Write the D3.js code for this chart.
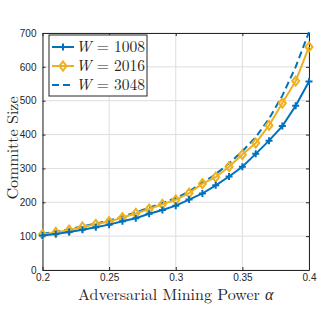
<!DOCTYPE html>
<html>
<head>
<meta charset="utf-8">
<script src="https://cdn.jsdelivr.net/npm/d3@7"></script>
<style>
  body { margin: 0; background: #fff; }
  svg { display: block; }
</style>
</head>
<body>
<div id="chart"></div>
<script>
// data
var alpha = [0.20, 0.21, 0.22, 0.23, 0.24, 0.25, 0.26, 0.27, 0.28, 0.29, 0.30,
             0.31, 0.32, 0.33, 0.34, 0.35, 0.36, 0.37, 0.38, 0.39, 0.40];
var w1008 = [102, 106, 112, 119, 126, 134, 144, 153, 166, 177, 190,
             208, 226, 250, 276, 305, 343, 382, 425, 485, 557];
var w2016 = [105, 111, 118, 127, 135, 143, 155, 167, 180, 194, 207,
             227, 255, 274, 305, 341, 375, 427, 493, 558, 659];
var w3048 = [107, 113, 120, 129, 137, 146, 158, 170, 184, 198, 212,
             232, 258, 283, 315, 351, 392, 447, 515, 600, 703];
var xTicks = [0.2, 0.25, 0.3, 0.35, 0.4];
var yTicks = [0, 100, 200, 300, 400, 500, 600, 700];
var legendNames = ["1008", "2016", "3048"];

var blue = "#0072BD", yellow = "#EDB120";

var margin = { top: 33, right: 23, bottom: 55, left: 42.5 },
  width = 332 - margin.left - margin.right,
  height = 325 - margin.top - margin.bottom;

var svg = d3.select("#chart")
  .append("svg")
  .attr("width", 332)
  .attr("height", 325);

var g = svg.append("g")
  .attr("transform", `translate(${margin.left}, ${margin.top})`);

var x = d3.scaleLinear().domain([0.2, 0.4]).range([0, width]);
var y = d3.scaleLinear().domain([0, 700]).range([height, 0]);

// grid
g.append("g").selectAll("line").data(xTicks).join("line")
  .attr("x1", d => x(d)).attr("x2", d => x(d))
  .attr("y1", 0).attr("y2", height)
  .attr("stroke", "#dedede").attr("stroke-width", 1);
g.append("g").selectAll("line").data(yTicks).join("line")
  .attr("y1", d => y(d)).attr("y2", d => y(d))
  .attr("x1", 0).attr("x2", width)
  .attr("stroke", "#dedede").attr("stroke-width", 1);

// axes
var xAxis = d3.axisBottom(x).tickValues(xTicks).tickSizeInner(-3).tickSizeOuter(0)
  .tickPadding(6).tickFormat(d3.format(""));
var yAxis = d3.axisLeft(y).tickValues(yTicks).tickSizeInner(-3).tickSizeOuter(0)
  .tickPadding(6);

var gx = g.append("g").attr("transform", `translate(0, ${height})`).call(xAxis);
var gy = g.append("g").call(yAxis);
var gx2 = g.append("g").call(d3.axisTop(x).tickValues(xTicks).tickSizeInner(-3).tickSizeOuter(0).tickFormat(""));
var gy2 = g.append("g").attr("transform", `translate(${width}, 0)`)
  .call(d3.axisRight(y).tickValues(yTicks).tickSizeInner(-3).tickSizeOuter(0).tickFormat(""));

[gx, gy, gx2, gy2].forEach(function (a) {
  a.select(".domain").attr("stroke", "#262626").attr("stroke-width", 1);
  a.selectAll(".tick line").attr("stroke", "#262626");
  a.selectAll("text")
    .attr("fill", "#262626")
    .style("font-family", "'Liberation Sans', Arial, sans-serif")
    .style("font-size", "10px");
});
gx.selectAll("text").attr("dy", "0.5em");

var line = d3.line().x((d, i) => x(alpha[i])).y(d => y(d));

// W = 3048 dashed
g.append("path").datum(w3048)
  .attr("d", line).attr("fill", "none")
  .attr("stroke", blue).attr("stroke-width", 2)
  .attr("stroke-dasharray", "7,4");

// W = 2016 with diamonds
g.append("path").datum(w2016)
  .attr("d", line).attr("fill", "none")
  .attr("stroke", yellow).attr("stroke-width", 2);
var diamond = "M0,-4.5L3.5,0L0,4.5L-3.5,0Z";
g.append("g").selectAll("path").data(w2016).join("path")
  .attr("transform", (d, i) => `translate(${x(alpha[i])}, ${y(d)})`)
  .attr("d", diamond)
  .attr("fill", "none").attr("stroke", yellow).attr("stroke-width", 2);

// W = 1008 with plus markers
g.append("path").datum(w1008)
  .attr("d", line).attr("fill", "none")
  .attr("stroke", blue).attr("stroke-width", 2);
var plus = "M-3.5,0L3.5,0M0,-3.5L0,3.5";
g.append("g").selectAll("path").data(w1008).join("path")
  .attr("transform", (d, i) => `translate(${x(alpha[i])}, ${y(d)})`)
  .attr("d", plus)
  .attr("fill", "none").attr("stroke", blue).attr("stroke-width", 2);

// labels
var serif = "'Latin Modern Roman', 'Liberation Serif', 'DejaVu Serif', serif";
svg.append("text")
  .attr("x", margin.left + width / 2)
  .attr("y", 300)
  .attr("text-anchor", "middle")
  .style("font-family", serif)
  .style("font-size", "16px")
  .attr("fill", "#262626")
  .html("Adversarial Mining Power <tspan font-style='italic'>α</tspan>");

svg.append("text")
  .attr("transform", "translate(18, 148) rotate(-90)")
  .attr("text-anchor", "middle")
  .style("font-family", serif)
  .style("font-size", "16px")
  .attr("fill", "#262626")
  .text("Committe Size");

// legend
var lg = svg.append("g").attr("transform", "translate(49, 35)");
lg.append("rect")
  .attr("width", 98).attr("height", 61)
  .attr("fill", "#fff").attr("stroke", "#262626").attr("stroke-width", 1);

var styles = [
  { color: blue, dash: null, marker: plus },
  { color: yellow, dash: null, marker: diamond },
  { color: blue, dash: "7,4", marker: null }
];
legendNames.forEach(function (name, i) {
  var yy = 12 + i * 19;
  var s = styles[i];
  lg.append("line")
    .attr("x1", 3).attr("x2", 25).attr("y1", yy).attr("y2", yy)
    .attr("stroke", s.color).attr("stroke-width", 2)
    .attr("stroke-dasharray", s.dash);
  if (s.marker) {
    lg.append("path")
      .attr("transform", `translate(14, ${yy})`)
      .attr("d", s.marker)
      .attr("fill", "none").attr("stroke", s.color).attr("stroke-width", 2);
  }
  var t = lg.append("text")
    .attr("x", 27).attr("y", yy + 5)
    .style("font-family", serif)
    .style("font-size", "15.5px")
    .attr("fill", "#262626");
  t.append("tspan").attr("font-style", "italic").text("W");
  t.append("tspan").attr("xml:space", "preserve").text(" = " + name);
});
</script>
</body>
</html>
